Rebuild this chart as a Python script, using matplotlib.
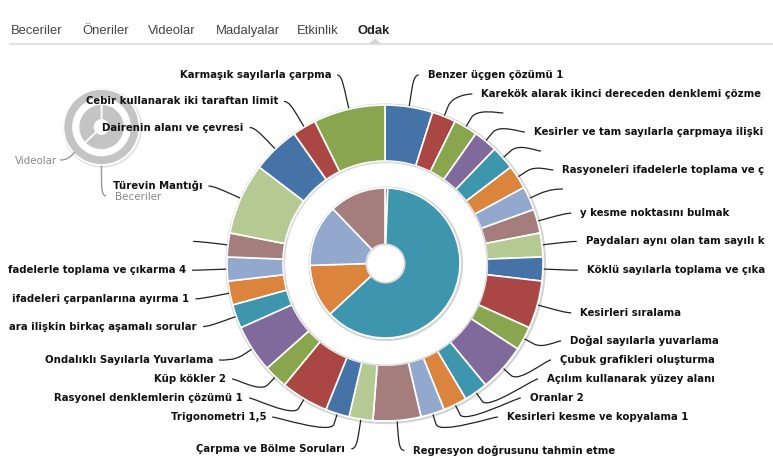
import numpy as np
import matplotlib.pyplot as plt
from matplotlib.patches import Circle, Polygon, Rectangle, PathPatch
from matplotlib.path import Path

# data: outer ring = skills (Beceriler), inner pie = videos (Videolar)
skill_names = [
    "Benzer üçgen çözümü 1",
    "Karekök alarak ikinci dereceden denklemi çözme",
    "",
    "Kesirler ve tam sayılarla çarpmaya ilişki",
    "",
    "Rasyoneleri ifadelerle toplama ve ç",
    "",
    "y kesme noktasını bulmak",
    "Paydaları aynı olan tam sayılı k",
    "Köklü sayılarla toplama ve çıka",
    "Kesirleri sıralama",
    "Doğal sayılarla yuvarlama",
    "Çubuk grafikleri oluşturma",
    "Açılım kullanarak yüzey alanı",
    "Oranlar 2",
    "Kesirleri kesme ve kopyalama 1",
    "Regresyon doğrusunu tahmin etme",
    "Çarpma ve Bölme Soruları",
    "Trigonometri 1,5",
    "Rasyonel denklemlerin çözümü 1",
    "Küp kökler 2",
    "Ondalıklı Sayılarla Yuvarlama",
    "ara ilişkin birkaç aşamalı sorular",
    "ifadeleri çarpanlarına ayırma 1",
    "fadelerle toplama ve çıkarma 4",
    "",
    "Türevin Mantığı",
    "Dairenin alanı ve çevresi",
    "Cebir kullanarak iki taraftan limit",
    "Karmaşık sayılarla çarpma",
]
skill_values = [2, 1, 1, 1, 1, 1, 1, 1, 1, 1, 2, 1, 2, 1, 1,
                1, 2, 1, 1, 2, 1, 2, 1, 1, 1, 1, 3, 2, 1, 3]
video_values = [0.6, 62.5, 11.4, 13.3, 12.2]
legend_inner = [63, 37]
tabs = ["Beceriler", "Öneriler", "Videolar", "Madalyalar", "Etkinlik", "Odak"]
tab_x = [11, 82, 148, 216, 297, 358]

palette = ['#4572A7', '#AA4643', '#89A54E', '#80699B', '#3D96AE',
           '#DB843D', '#92A8CD', '#A47D7C', '#B5CA92']

W, H = 773, 474
cx, cy = 385, 263
r_out, r_in = 158, 102
r_pie, r_hole = 75, 18.5
dist = 30            # label distance
slot_h = 19          # label height
label_font = dict(family='DejaVu Sans', fontsize=7.3, fontweight='bold', color='#111')

fig = plt.figure(figsize=(W / 100, H / 100), dpi=100)
ax = fig.add_axes([0, 0, 1, 1])

# shadows
for rr in (r_out, r_pie):
    ax.add_patch(Circle((cx + 0.8, cy + 0.8), rr + 1.2, facecolor='none',
                        edgecolor='#d4d4d4', lw=1.6, zorder=1))

ax.pie(skill_values, colors=[palette[i % 9] for i in range(len(skill_values))],
       startangle=-90, counterclock=True, center=(cx, cy), radius=r_out,
       wedgeprops=dict(width=r_out - r_in, edgecolor='white', linewidth=1.2, zorder=2))
ax.add_patch(Circle((cx + 0.8, cy + 0.8), r_in - 0.5, facecolor='none',
                    edgecolor='#dcdcdc', lw=1.2, zorder=3))
ax.pie(video_values, colors=palette[3:8], startangle=-90, counterclock=True,
       center=(cx, cy), radius=r_pie,
       wedgeprops=dict(width=r_pie - r_hole, edgecolor='white', linewidth=1.2, zorder=2))
ax.add_patch(Circle((cx + 0.6, cy + 0.6), r_hole + 0.6, facecolor='none',
                    edgecolor='#dcdcdc', lw=1.2, zorder=3))

# data labels, placed like Highcharts (slots of equal height per half)
tot = float(sum(skill_values))
cum = np.concatenate([[0], np.cumsum(skill_values)])
mid = (cum[:-1] + cum[1:]) / 2 / tot * 2 * np.pi - np.pi / 2
R = r_out + dist
nat_y = cy + np.sin(mid) * R
left = mid > np.pi / 2
clip = Rectangle((10, 0), 749, H, transform=ax.transData)


def get_x(y, is_left):
    s = np.clip((y - cy) / R, -1, 1)
    return cx + (-1 if is_left else 1) * np.cos(np.arcsin(s)) * R


def is_free(free, k):
    return k < 0 or k >= len(free) or free[k]


for side in (False, True):
    idx = [i for i in range(len(skill_values)) if left[i] == side]
    idx.sort(key=lambda i: mid[i], reverse=side)
    slots = list(np.arange(cy - R, cy + R + 0.01, slot_h))
    n_s, n = len(slots), len(idx)
    free = [True] * n_s
    used = []
    for j, i in enumerate(idx):
        k = int(np.argmin([abs(s - nat_y[i]) for s in slots]))
        if k < j and free[j]:
            k = j
        elif n_s < n - j + k:
            k = n_s - n + j
        while k < n_s - 1 and not free[k]:
            k += 1
        used.append(k)
        free[k] = False
    used.sort()
    for j, i in enumerate(idx):
        k = used[j]
        y = slots[k]
        ny = nat_y[i]
        if (ny > y and is_free(free, k + 1)) or (ny < y and is_free(free, k - 1)):
            y = ny
        x = get_x(ny if k in (0, n_s - 1) else y, side)
        sgn = -1 if side else 1
        b0 = np.array([cx + np.cos(mid[i]) * r_out, cy + np.sin(mid[i]) * r_out])
        b2 = np.array([cx + np.cos(mid[i]) * (r_out + 11), cy + np.sin(mid[i]) * (r_out + 11)])
        c2 = 2 * b2 - b0
        verts = [(x + 5 * sgn, y), (x, y), tuple(c2), tuple(b2), tuple(b0)]
        codes = [Path.MOVETO, Path.CURVE4, Path.CURVE4, Path.CURVE4, Path.LINETO]
        ax.add_patch(PathPatch(Path(verts, codes), facecolor='none',
                               edgecolor='#222', lw=0.9, zorder=1))
        if skill_names[i]:
            t = ax.text(x + (14 if not side else -11), y, skill_names[i],
                        ha='right' if side else 'left', va='center', **label_font)
            t.set_clip_path(clip)

# small legend donut (top left)
lx, ly = 101.5, 127
ax.add_patch(Circle((lx + 0.8, ly + 0.8), 38.8, facecolor='none',
                    edgecolor='#e2e2e2', lw=1.4, zorder=1))
ax.pie([1], colors=['#c4c4c4'], startangle=-90, counterclock=True, center=(lx, ly),
       radius=38, wedgeprops=dict(width=9.5, edgecolor='white', linewidth=1.2, zorder=2))
ax.pie(legend_inner, colors=['#c4c4c4', '#c4c4c4'], startangle=-90, counterclock=True,
       center=(lx, ly), radius=23,
       wedgeprops=dict(width=16, edgecolor='white', linewidth=1.2, zorder=2))
ax.add_patch(PathPatch(Path([(106, 196), (101.5, 196), (101.5, 186), (101.5, 176), (101.5, 165)],
                            [Path.MOVETO, Path.CURVE4, Path.CURVE4, Path.CURVE4, Path.LINETO]),
                       facecolor='none', edgecolor='#999', lw=1.0, zorder=1))
ax.add_patch(PathPatch(Path([(60, 160), (66, 160), (69, 158), (72, 155), (75, 152)],
                            [Path.MOVETO, Path.CURVE4, Path.CURVE4, Path.CURVE4, Path.LINETO]),
                       facecolor='none', edgecolor='#999', lw=1.0, zorder=3))
ax.text(57, 161, "Videolar", ha='right', va='center', family='DejaVu Sans',
        fontsize=7.4, color='#888')
ax.text(115, 197, "Beceriler", ha='left', va='center', family='DejaVu Sans',
        fontsize=7.4, color='#888')

# tabs
for name, x in zip(tabs, tab_x):
    ax.text(x, 31, name, ha='left', va='center', family='Liberation Sans',
            fontsize=9.4, color='#444' if name != "Odak" else '#222',
            fontweight='bold' if name == "Odak" else 'normal')
ax.plot([10, W], [44, 44], color='#dddddd', lw=1.2)
ax.add_patch(Polygon([(368, 44.5), (375, 38.5), (382, 44.5)], closed=True,
                     facecolor='#d5d5d5', edgecolor='none'))

ax.set_xlim(0, W)
ax.set_ylim(H, 0)
ax.set_aspect('equal')
ax.axis('off')
fig.savefig('out.png', dpi=100, facecolor='white')
